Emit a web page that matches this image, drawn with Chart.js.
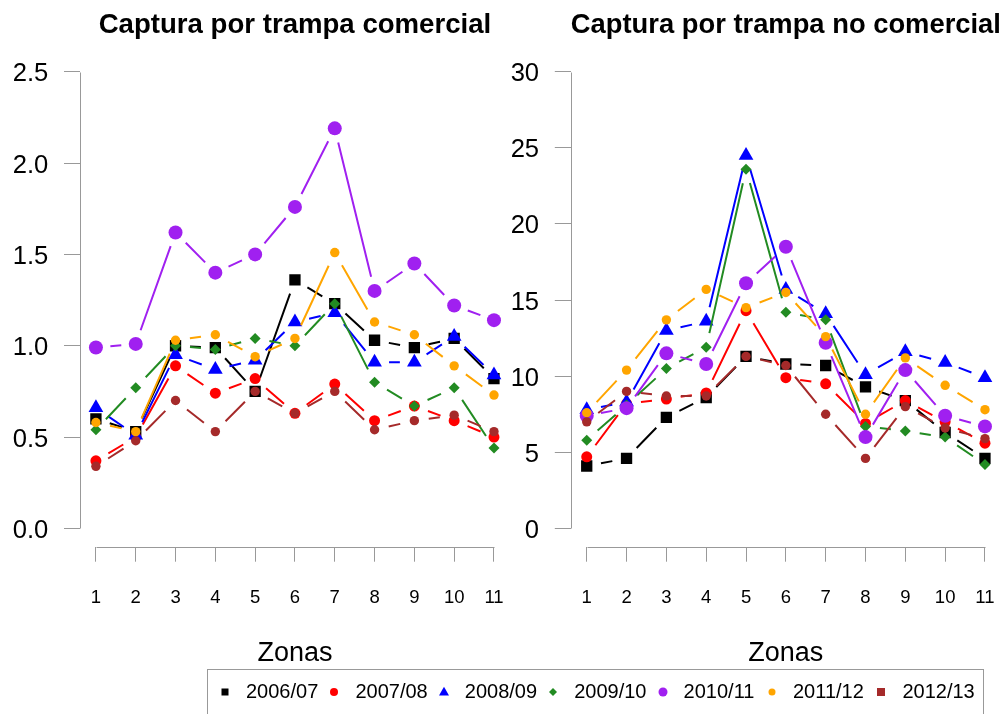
<!DOCTYPE html>
<html><head><meta charset="utf-8">
<script src="https://cdn.jsdelivr.net/npm/chart.js@4"></script>
<style>
html,body{margin:0;padding:0;background:#fff;width:1005px;height:714px;overflow:hidden;font-family:"Liberation Sans",Arial,Helvetica,sans-serif}
#c1{position:absolute;left:0;top:0}
#c2{position:absolute;left:500px;top:0}
#legend{position:absolute;left:207px;top:669px;width:777px;height:60px;border:1px solid #999;box-sizing:border-box}
.sym{position:absolute;top:22px}
.txt{position:absolute;top:10px;font-size:20px;line-height:22px;color:#000;white-space:nowrap}
</style>
</head><body>
<canvas id="c1" width="512" height="680"></canvas>
<canvas id="c2" width="505" height="680"></canvas>
<div id="legend"></div>
<script>
// ---- data ----
const zones = [1,2,3,4,5,6,7,8,9,10,11];
const xTickLabels = ['1','2','3','4','5','6','7','8','9','10','11'];
const seasons = ['2006/07','2007/08','2008/09','2009/10','2010/11','2011/12','2012/13'];

const leftTitle = 'Captura por trampa comercial';
const rightTitle = 'Captura por trampa no comercial';
const xTitle = 'Zonas';

const leftTicks = [0,0.5,1,1.5,2,2.5];
const leftTickLabels = ['0.0','0.5','1.0','1.5','2.0','2.5'];
const rightTicks = [0,5,10,15,20,25,30];
const rightTickLabels = ['0','5','10','15','20','25','30'];

// Captura por trampa comercial
const com0607 = [0.60,0.53,1.00,0.99,0.75,1.36,1.23,1.03,0.99,1.04,0.82];
const com0708 = [0.37,0.50,0.89,0.74,0.82,0.63,0.79,0.59,0.67,0.59,0.50];
const com0809 = [0.66,0.51,0.95,0.87,0.92,1.13,1.18,0.91,0.91,1.05,0.84];
const com0910 = [0.54,0.77,1.00,0.98,1.04,1.00,1.23,0.80,0.67,0.77,0.44];
const com1011 = [0.99,1.01,1.62,1.40,1.50,1.76,2.19,1.30,1.45,1.22,1.14];
const com1112 = [0.58,0.53,1.03,1.06,0.94,1.04,1.51,1.13,1.06,0.89,0.73];
const com1213 = [0.34,0.48,0.70,0.53,0.75,0.63,0.75,0.54,0.59,0.62,0.53];

// Captura por trampa no comercial
const nc0607 = [4.1,4.6,7.3,8.6,11.3,10.8,10.7,9.3,8.4,6.3,4.6];
const nc0708 = [4.7,8.2,8.5,8.9,14.3,9.9,9.5,6.9,8.4,7.0,5.6];
const nc0809 = [7.8,8.3,13.0,13.6,24.5,15.7,14.1,10.1,11.6,10.9,9.9];
const nc0910 = [5.8,8.1,10.5,11.9,23.6,14.2,13.7,6.7,6.4,6.0,4.2];
const nc1011 = [7.4,7.9,11.5,10.8,16.1,18.5,12.2,6.0,10.4,7.4,6.7];
const nc1112 = [7.6,10.4,13.7,15.7,14.5,15.5,12.6,7.5,11.2,9.4,7.8];
const nc1213 = [7.0,9.0,8.7,8.7,11.3,10.7,7.5,4.6,8.0,6.6,5.9];

const comSeries = [com0607,com0708,com0809,com0910,com1011,com1112,com1213];
const ncSeries  = [nc0607,nc0708,nc0809,nc0910,nc1011,nc1112,nc1213];

// ---- styles ----
const FONT = '"Liberation Sans", Arial, Helvetica, sans-serif';
const colors = ['#000000','#FF0000','#0000FF','#228B22','#A020F0','#FFA500','#A52A2A'];
const pStyles = ['rect','circle','triangle','rectRot','circle','circle','circle'];
const pRadii = [8,5.5,8.5,5.5,7,4.7,4.7];
const GAP = 14.5;
const AXIS_COLOR = '#999999';

const gapLines = {
  id:'gapLines',
  beforeDatasetDraw(chart, args){
    const ds = chart.data.datasets[args.index];
    const pts = args.meta.data;
    const ctx = chart.ctx;
    ctx.save();
    ctx.strokeStyle = ds.lineColor;
    ctx.lineWidth = 2;
    ctx.lineCap = 'butt';
    ctx.beginPath();
    for (let i=0;i<pts.length-1;i++){
      const a=pts[i], b=pts[i+1];
      const dx=b.x-a.x, dy=b.y-a.y, d=Math.hypot(dx,dy);
      if (d<=2*GAP) continue;
      const ux=dx/d, uy=dy/d;
      ctx.moveTo(a.x+ux*GAP, a.y+uy*GAP);
      ctx.lineTo(b.x-ux*GAP, b.y-uy*GAP);
    }
    ctx.stroke();
    ctx.restore();
  }
};

const rAxes = {
  id:'rAxes',
  beforeDatasetsDraw(chart){
    const {ctx, scales:{x,y}, chartArea} = chart;
    ctx.save();
    ctx.strokeStyle = AXIS_COLOR; ctx.lineWidth = 1;
    const yt = y.ticks, xt = x.ticks;
    const xl = Math.round(chartArea.left)+0.5;
    const yb = Math.round(chartArea.bottom)+0.5;
    ctx.beginPath();
    ctx.moveTo(xl, Math.round(y.getPixelForValue(yt[0].value))+0.5);
    ctx.lineTo(xl, Math.round(y.getPixelForValue(yt[yt.length-1].value))+0.5);
    ctx.moveTo(Math.round(x.getPixelForValue(xt[0].value))+0.5, yb);
    ctx.lineTo(Math.round(x.getPixelForValue(xt[xt.length-1].value))+0.5, yb);
    ctx.stroke();
    ctx.restore();
  }
};

function makeChart(id, title, series, yMin, yMax, yTicks, yLabels, yAxisW, padRight){
  const datasets = series.map((vals,i)=>({
    label: seasons[i],
    data: zones.map((z,k)=>({x:z, y:vals[k]})),
    showLine:false,
    lineColor: colors[i],
    pointStyle: pStyles[i],
    pointRadius: pRadii[i],
    pointBackgroundColor: colors[i],
    pointBorderWidth: 0,
    order: series.length-1-i
  }));
  const grid = {display:true, drawOnChartArea:false, drawTicks:true, color:AXIS_COLOR, lineWidth:1};
  return new Chart(document.getElementById(id), {
    type:'scatter',
    data:{datasets},
    plugins:[gapLines, rAxes],
    options:{
      responsive:false, animation:false, devicePixelRatio:1, events:[],
      layout:{autoPadding:false, padding:{left:0,right:padRight,top:0,bottom:0}},
      plugins:{
        legend:{display:false}, tooltip:{enabled:false},
        title:{display:true, fullSize:false, text:title, color:'#000',
               font:{family:FONT, size:27.6, weight:'bold'}, padding:{top:9.2,bottom:11.1}}
      },
      scales:{
        x:{type:'linear', min:0.6, max:11.4, bounds:'data',
           afterBuildTicks:s=>{s.ticks = zones.map(v=>({value:v}));},
           afterFit:s=>{s.height = 133.3; s.paddingLeft = 0; s.paddingRight = 0;},
           grid:Object.assign({tickLength:15}, grid),
           border:{display:false},
           ticks:{font:{family:FONT,size:18.5}, color:'#000', padding:25, maxRotation:0, autoSkip:false,
                  callback:(v,i)=>xTickLabels[i]},
           title:{display:true, text:xTitle, color:'#000', font:{family:FONT,size:27}, padding:{top:0,bottom:10}}
        },
        y:{type:'linear', min:yMin, max:yMax, bounds:'data',
           afterBuildTicks:s=>{s.ticks = yTicks.map(v=>({value:v}));},
           afterFit:s=>{s.width = yAxisW; s.paddingTop = 0; s.paddingBottom = 0;},
           grid:Object.assign({tickLength:16}, grid),
           border:{display:false},
           ticks:{font:{family:FONT,size:25.6}, color:'#000', padding:15.7, autoSkip:false, labelOffset:2.5,
                  callback:(v,i)=>yLabels[i]}
        }
      }
    }
  });
}

makeChart('c1', leftTitle, comSeries, -0.1, 2.6, leftTicks, leftTickLabels, 80, 2.1);
makeChart('c2', rightTitle, ncSeries, -1.2, 31.2, rightTicks, rightTickLabels, 70.8, 4.1);

// ---- legend (HTML) ----
const legSym = ['square','circle','triangle','diamond','circle','circle','square'];
const legSize = [7,8,10,7,9,7,8];
const legend = document.getElementById('legend');
seasons.forEach((s,i)=>{
  const cx = 17 + i*109.4;
  const sz = legSize[i];
  const svgNS = 'http://www.w3.org/2000/svg';
  const svg = document.createElementNS(svgNS,'svg');
  svg.setAttribute('width', 12); svg.setAttribute('height', 12);
  svg.setAttribute('class','sym');
  svg.style.left = (cx-6)+'px'; svg.style.top = (22-6)+'px';
  let el;
  if (legSym[i]==='square'){ el=document.createElementNS(svgNS,'rect'); el.setAttribute('x',6-sz/2); el.setAttribute('y',6-sz/2); el.setAttribute('width',sz); el.setAttribute('height',sz); }
  else if (legSym[i]==='circle'){ el=document.createElementNS(svgNS,'circle'); el.setAttribute('cx',6); el.setAttribute('cy',6); el.setAttribute('r',sz/2); }
  else if (legSym[i]==='triangle'){ el=document.createElementNS(svgNS,'polygon'); const h=sz*0.87; el.setAttribute('points',`6,${6-h*0.6} ${6-sz/2},${6+h*0.4} ${6+sz/2},${6+h*0.4}`); }
  else { el=document.createElementNS(svgNS,'polygon'); const r=sz/2+0.5; el.setAttribute('points',`6,${6-r} ${6+r},6 6,${6+r} ${6-r},6`); }
  el.setAttribute('fill', colors[i]);
  svg.appendChild(el);
  legend.appendChild(svg);
  const t = document.createElement('div');
  t.className='txt'; t.textContent = s;
  t.style.left = (cx+21)+'px';
  legend.appendChild(t);
});
</script>
</body></html>
